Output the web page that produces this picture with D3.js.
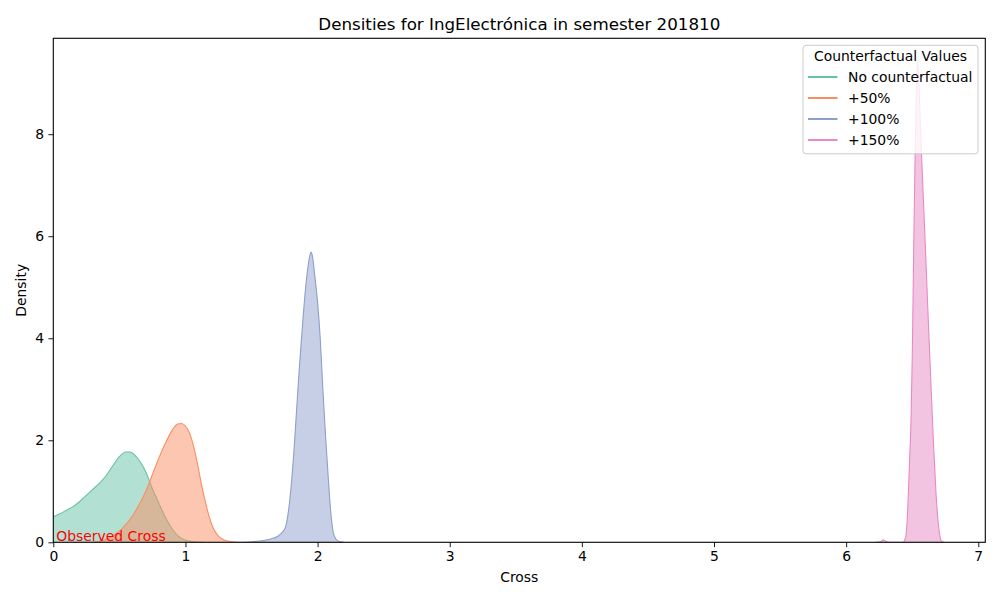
<!DOCTYPE html>
<html>
<head>
<meta charset="utf-8">
<script src="https://cdn.jsdelivr.net/npm/d3@7"></script>
<style>
  body { margin: 0; background: #fff; }
  svg { font-family: "DejaVu Sans", sans-serif; }
</style>
</head>
<body>
<svg id="chart" width="1000" height="600"></svg>
<script>
// ---- Data ----
const seriesNames = ["No counterfactual", "+50%", "+100%", "+150%"];
const seriesColors = ["#66c2a5", "#fc8d62", "#8da0cb", "#e78ac3"];

const noCfX = [0.00,0.05,0.10,0.15,0.20,0.25,0.30,0.35,0.40,0.45,0.50,0.55,0.58,0.62,0.66,0.70,0.75,0.80,0.85,0.90,0.95,1.00,1.05,1.10,1.15];
const noCfY = [0.50,0.56,0.63,0.70,0.80,0.92,1.04,1.16,1.31,1.50,1.68,1.77,1.77,1.70,1.57,1.38,1.05,0.76,0.48,0.26,0.11,0.04,0.015,0.005,0.0];

const p50X = [0.30,0.35,0.40,0.45,0.50,0.55,0.60,0.65,0.70,0.75,0.80,0.85,0.90,0.94,0.97,1.00,1.03,1.06,1.09,1.12,1.15,1.18,1.21,1.25,1.30,1.35,1.40];
const p50Y = [0.0,0.02,0.06,0.13,0.22,0.35,0.52,0.74,1.00,1.33,1.66,1.95,2.20,2.32,2.33,2.28,2.15,1.90,1.55,1.15,0.80,0.50,0.28,0.12,0.04,0.01,0.0];

const p100X = [1.40,1.50,1.60,1.65,1.70,1.74,1.76,1.78,1.80,1.82,1.84,1.86,1.88,1.90,1.92,1.94,1.95,1.96,1.98,2.00,2.02,2.04,2.06,2.08,2.10,2.12,2.14,2.16,2.20];
const p100Y = [0.0,0.01,0.04,0.07,0.12,0.22,0.32,0.62,1.10,1.75,2.55,3.35,4.05,4.72,5.25,5.60,5.69,5.62,5.20,4.70,4.00,3.00,2.10,1.30,0.58,0.18,0.06,0.02,0.0];

const p150X = [6.22,6.26,6.28,6.30,6.33,6.40,6.43,6.45,6.46,6.47,6.48,6.49,6.50,6.51,6.52,6.53,6.54,6.55,6.56,6.58,6.60,6.62,6.64,6.66,6.68,6.70,6.72,6.74];
const p150Y = [0.0,0.01,0.05,0.02,0.0,0.0,0.0,0.1,0.35,0.9,1.6,2.3,3.6,5.5,7.3,8.7,9.41,9.1,8.3,7.0,5.75,4.45,3.2,2.0,0.96,0.3,0.03,0.0];

const xTicks = [0, 1, 2, 3, 4, 5, 6, 7];
const yTicks = [0, 2, 4, 6, 8];

const seriesData = [
  d3.zip(noCfX, noCfY),
  d3.zip(p50X, p50Y),
  d3.zip(p100X, p100Y),
  d3.zip(p150X, p150Y)
];

// ---- Layout ----
const svg = d3.select("#chart");
const mLeft = 53.3, mRight = 985.3, mTop = 38.3, mBottom = 542.3;

const x = d3.scaleLinear().domain([0, 7.053]).range([mLeft, mRight]);
const y = d3.scaleLinear().domain([0, 9.88]).range([mBottom, mTop]);

const area = d3.area()
  .x(d => x(d[0])).y0(y(0)).y1(d => y(d[1]))
  .curve(d3.curveMonotoneX);
const line = d3.line()
  .x(d => x(d[0])).y(d => y(d[1]))
  .curve(d3.curveMonotoneX);

const plot = svg.append("g");
plot.append("defs").append("clipPath").attr("id", "clip")
  .append("rect").attr("x", mLeft).attr("y", mTop).attr("width", mRight - mLeft).attr("height", mBottom - mTop);

const marks = plot.append("g").attr("clip-path", "url(#clip)");
seriesData.forEach((d, i) => {
  marks.append("path").datum(d)
    .attr("d", area)
    .attr("fill", seriesColors[i]).attr("fill-opacity", 0.5).attr("stroke", "none");
  marks.append("path").datum(d)
    .attr("d", line)
    .attr("fill", "none").attr("stroke", seriesColors[i]).attr("stroke-width", 1.1);
});

// Observed Cross annotation
plot.append("text")
  .attr("x", x(0) + 3).attr("y", y(0) - 1.5)
  .attr("fill", "red").attr("font-size", "13.9px")
  .text("Observed Cross");

// Axes
const xAxis = d3.axisBottom(x).tickValues(xTicks).tickSize(4.9).tickPadding(4.2).tickFormat(d3.format("d"));
const yAxis = d3.axisLeft(y).tickValues(yTicks).tickSize(4.9).tickPadding(4.2).tickFormat(d3.format("d"));

const gx = svg.append("g").attr("transform", `translate(0,${mBottom})`).call(xAxis);
const gy = svg.append("g").attr("transform", `translate(${mLeft},0)`).call(yAxis);
[gx, gy].forEach(g => {
  g.select(".domain").remove();
  g.selectAll(".tick line").attr("stroke", "#000").attr("stroke-width", 0.9);
  g.selectAll(".tick text").attr("fill", "#000").attr("font-size", "13.9px")
    .attr("font-family", "DejaVu Sans, sans-serif");
});

// Frame (spines)
svg.append("rect")
  .attr("x", mLeft).attr("y", mTop).attr("width", mRight - mLeft).attr("height", mBottom - mTop)
  .attr("fill", "none").attr("stroke", "#000").attr("stroke-width", 1.1);

// Title & labels
svg.append("text").attr("x", (mLeft + mRight) / 2).attr("y", 30)
  .attr("text-anchor", "middle").attr("font-size", "16.7px").attr("fill", "#000")
  .text("Densities for IngElectrónica in semester 201810");
svg.append("text").attr("x", (mLeft + mRight) / 2).attr("y", 582)
  .attr("text-anchor", "middle").attr("font-size", "13.9px").attr("fill", "#000")
  .text("Cross");
svg.append("text").attr("transform", `translate(26,${(mTop + mBottom) / 2}) rotate(-90)`)
  .attr("text-anchor", "middle").attr("font-size", "13.9px").attr("fill", "#000")
  .text("Density");

// Legend
const lg = svg.append("g");
lg.append("rect").attr("x", 803).attr("y", 45.3).attr("width", 175).attr("height", 108.5)
  .attr("rx", 3).attr("fill", "#fff").attr("fill-opacity", 0.8)
  .attr("stroke", "#cccccc").attr("stroke-width", 1);
lg.append("text").attr("x", 890.5).attr("y", 56).attr("dy", "0.35em")
  .attr("text-anchor", "middle").attr("font-size", "13.9px").attr("fill", "#000")
  .text("Counterfactual Values");
const legendY = [77, 98, 119, 140];
seriesNames.forEach((n, i) => {
  lg.append("line").attr("x1", 808).attr("x2", 837.5).attr("y1", legendY[i]).attr("y2", legendY[i])
    .attr("stroke", seriesColors[i]).attr("stroke-width", 2);
  lg.append("text").attr("x", 848).attr("y", legendY[i]).attr("dy", "0.35em")
    .attr("font-size", "13.9px").attr("fill", "#000").text(n);
});
</script>
</body>
</html>
